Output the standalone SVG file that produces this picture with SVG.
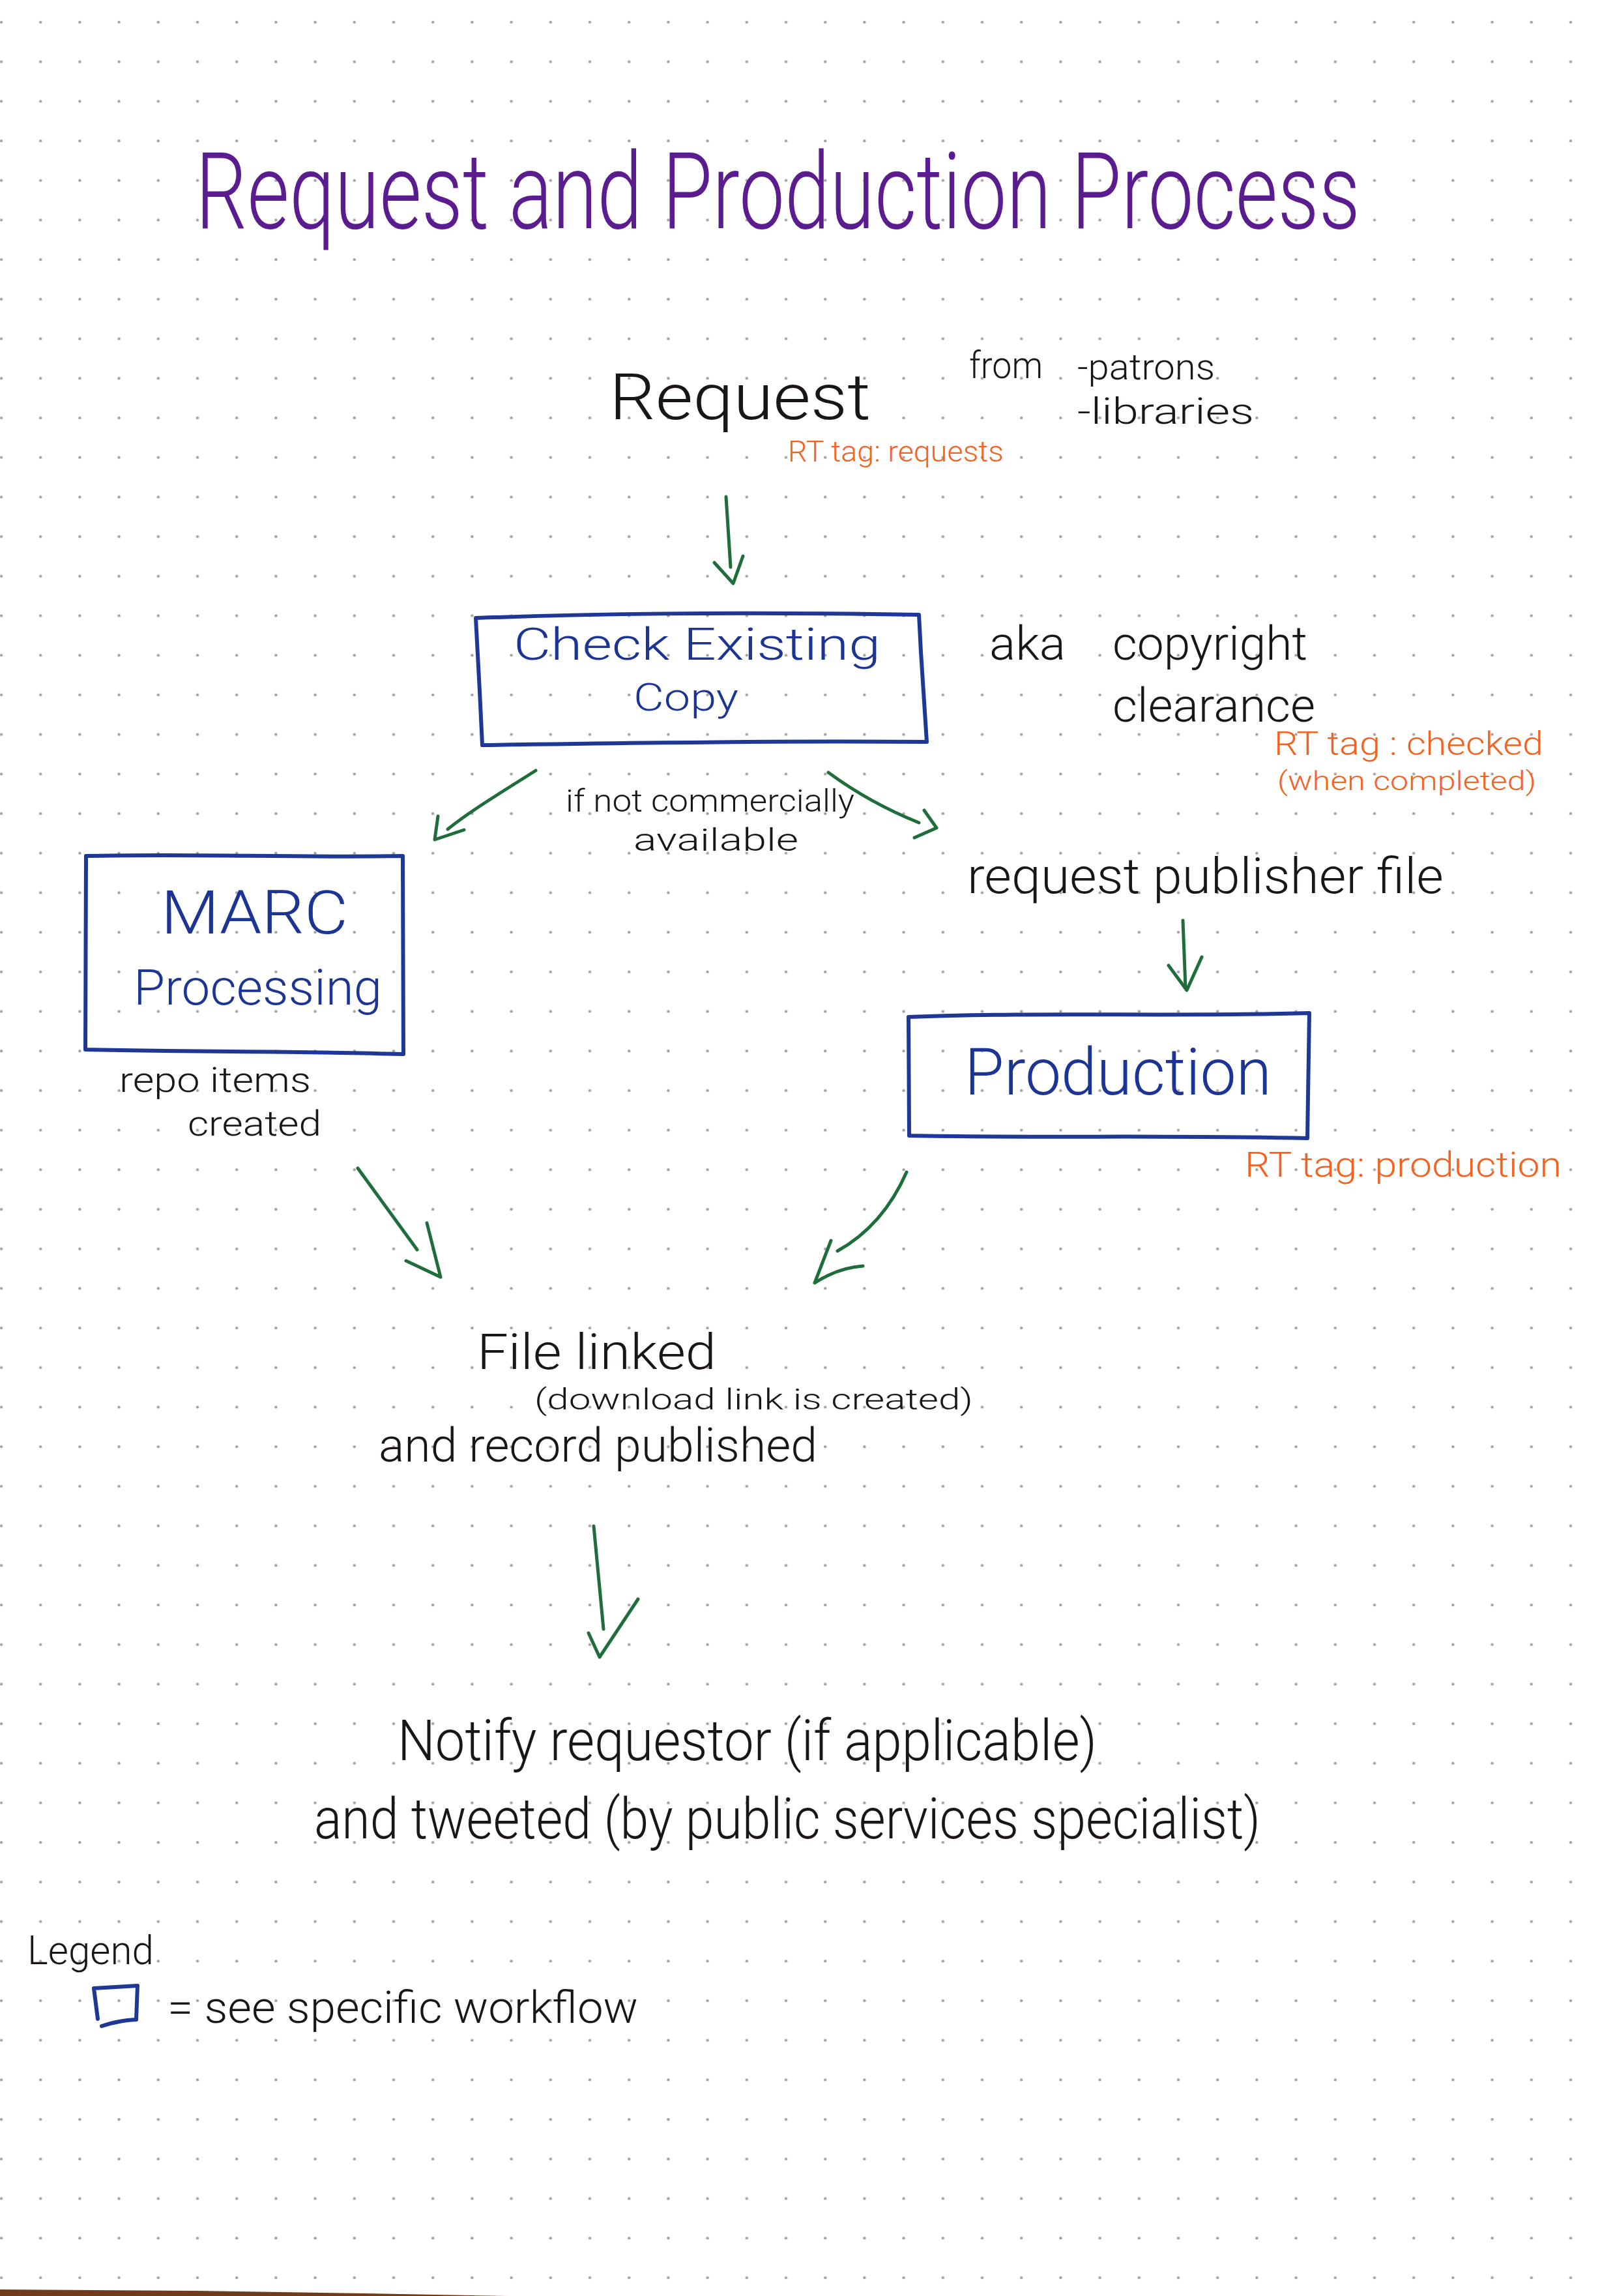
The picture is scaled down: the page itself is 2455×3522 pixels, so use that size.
<svg xmlns="http://www.w3.org/2000/svg" width="2455" height="3522" viewBox="0 0 2455 3522">
  <defs>
    <pattern id="dots" patternUnits="userSpaceOnUse" x="-28" y="4" width="60.2" height="60.7">
      <circle cx="30" cy="30" r="2.2" fill="#a8a0a0"/>
    </pattern>
    <style>
      .hw { font-family: Roboto, "Liberation Sans Narrow", "DejaVu Sans Condensed", sans-serif; font-weight: 300; }
      .title { fill: #5b1c8f; }
      .ink { fill: #1b1616; }
      .blue { fill: #1c3494; }
      .orange { fill: #f4621f; }
      .box { fill: none; stroke: #1f3896; stroke-width: 6; stroke-linejoin: round; stroke-linecap: round; }
      .conn { fill: none; stroke: #1e6d3a; stroke-width: 5; stroke-linecap: round; stroke-linejoin: round; }
    </style>
  </defs>

  <rect x="0" y="0" width="2455" height="3522" fill="#ffffff"/>
  <rect x="0" y="0" width="2455" height="3522" fill="url(#dots)"/>
  <path d="M0,3512 L300,3514 L560,3518 L780,3522 L0,3522 Z" fill="#6e3c1c"/>

  <g id="title">
    <text class="hw title" transform="translate(300,350) scale(1,1.27)" x="0" y="0" font-size="128" textLength="1787" lengthAdjust="spacingAndGlyphs">Request and Production Process</text>
  </g>

  <g id="request">
    <text class="hw ink" x="935" y="643" font-size="98" textLength="401" lengthAdjust="spacingAndGlyphs">Request</text>
    <text class="hw ink" x="1487" y="580" font-size="58" textLength="113" lengthAdjust="spacingAndGlyphs">from</text>
    <text class="hw ink" x="1653" y="582" font-size="56" textLength="211" lengthAdjust="spacingAndGlyphs">-patrons</text>
    <text class="hw ink" x="1653" y="650" font-size="56" textLength="271" lengthAdjust="spacingAndGlyphs">-libraries</text>
    <text class="hw orange" x="1209" y="708" font-size="44" textLength="331" lengthAdjust="spacingAndGlyphs">RT tag: requests</text>
  </g>

  <g id="check-existing-copy">
    <path class="box" d="M730,948 C900,942 1100,938 1410,943 L1413,1000 L1422,1138 C1200,1136 950,1140 740,1143 L736,1060 Z"/>
    <text class="hw blue" x="788" y="1012" font-size="68" textLength="563" lengthAdjust="spacingAndGlyphs">Check Existing</text>
    <text class="hw blue" x="972" y="1090" font-size="60" textLength="161" lengthAdjust="spacingAndGlyphs">Copy</text>
  </g>

  <g id="check-notes">
    <text class="hw ink" x="1518" y="1012" font-size="72" textLength="117" lengthAdjust="spacingAndGlyphs">aka</text>
    <text class="hw ink" x="1707" y="1012" font-size="72" textLength="299" lengthAdjust="spacingAndGlyphs">copyright</text>
    <text class="hw ink" x="1707" y="1107" font-size="72" textLength="311" lengthAdjust="spacingAndGlyphs">clearance</text>
    <text class="hw orange" x="1955" y="1158" font-size="50" textLength="413" lengthAdjust="spacingAndGlyphs">RT tag : checked</text>
    <text class="hw orange" x="1960" y="1212" font-size="40" textLength="397" lengthAdjust="spacingAndGlyphs">(when completed)</text>
    <text class="hw ink" x="868" y="1245" font-size="48" textLength="443" lengthAdjust="spacingAndGlyphs">if not commercially</text>
    <text class="hw ink" x="972" y="1305" font-size="48" textLength="253" lengthAdjust="spacingAndGlyphs">available</text>
  </g>

  <g id="marc-processing">
    <path class="box" d="M132,1313 C300,1309 450,1316 618,1313 L619,1617 C450,1612 300,1614 131,1610 Z"/>
    <text class="hw blue" x="247" y="1432" font-size="92" textLength="287" lengthAdjust="spacingAndGlyphs">MARC</text>
    <text class="hw blue" x="205" y="1541" font-size="76" textLength="381" lengthAdjust="spacingAndGlyphs">Processing</text>
    <text class="hw ink" x="183" y="1675" font-size="54" textLength="294" lengthAdjust="spacingAndGlyphs">repo items</text>
    <text class="hw ink" x="288" y="1742" font-size="54" textLength="205" lengthAdjust="spacingAndGlyphs">created</text>
  </g>

  <g id="request-publisher-file">
    <text class="hw ink" x="1484" y="1370" font-size="76" textLength="731" lengthAdjust="spacingAndGlyphs">request publisher file</text>
  </g>

  <g id="production">
    <path class="box" d="M1394,1560 C1600,1552 1800,1560 2009,1554 L2006,1746 C1800,1741 1600,1746 1395,1742 Z"/>
    <text class="hw blue" x="1480" y="1679" font-size="100" textLength="471" lengthAdjust="spacingAndGlyphs">Production</text>
    <text class="hw orange" x="1910" y="1805" font-size="54" textLength="486" lengthAdjust="spacingAndGlyphs">RT tag: production</text>
  </g>

  <g id="file-linked">
    <text class="hw ink" x="732" y="2100" font-size="76" textLength="367" lengthAdjust="spacingAndGlyphs">File linked</text>
    <text class="hw ink" x="820" y="2162" font-size="45" textLength="673" lengthAdjust="spacingAndGlyphs">(download link is created)</text>
    <text class="hw ink" x="581" y="2242" font-size="72" textLength="673" lengthAdjust="spacingAndGlyphs">and record published</text>
  </g>

  <g id="notify">
    <text class="hw ink" x="610" y="2700" font-size="88" textLength="1073" lengthAdjust="spacingAndGlyphs">Notify requestor (if applicable)</text>
    <text class="hw ink" x="482" y="2820" font-size="88" textLength="1452" lengthAdjust="spacingAndGlyphs">and tweeted (by public services specialist)</text>
  </g>

  <g id="legend">
    <text class="hw ink" x="42" y="3013" font-size="62" textLength="194" lengthAdjust="spacingAndGlyphs">Legend</text>
    <path class="box" d="M144,3050 L211,3046 L209,3098 M144,3050 L150,3097 M156,3108 C180,3100 195,3099 209,3098"/>
    <text class="hw ink" x="257" y="3103" font-size="68" textLength="722" lengthAdjust="spacingAndGlyphs">= see specific workflow</text>
  </g>

  <g id="connectors">
    <path class="conn" d="M1114,762 L1121,870"/>
    <path class="conn" d="M1096,863 L1125,895 L1140,853"/>

    <path class="conn" d="M822,1182 C770,1215 720,1245 687,1272"/>
    <path class="conn" d="M672,1252 L667,1288 L712,1273"/>

    <path class="conn" d="M1271,1185 Q1335,1232 1410,1262"/>
    <path class="conn" d="M1418,1243 L1437,1270 L1403,1285"/>

    <path class="conn" d="M1815,1412 L1819,1515"/>
    <path class="conn" d="M1793,1481 L1821,1519 L1844,1468"/>

    <path class="conn" d="M549,1792 L640,1917"/>
    <path class="conn" d="M655,1876 L676,1959 L623,1934"/>

    <path class="conn" d="M1391,1798 Q1355,1880 1285,1919"/>
    <path class="conn" d="M1275,1903 L1250,1968 Q1285,1945 1324,1942"/>

    <path class="conn" d="M911,2341 L926,2499"/>
    <path class="conn" d="M903,2505 L920,2542 L979,2453"/>
  </g>
</svg>
